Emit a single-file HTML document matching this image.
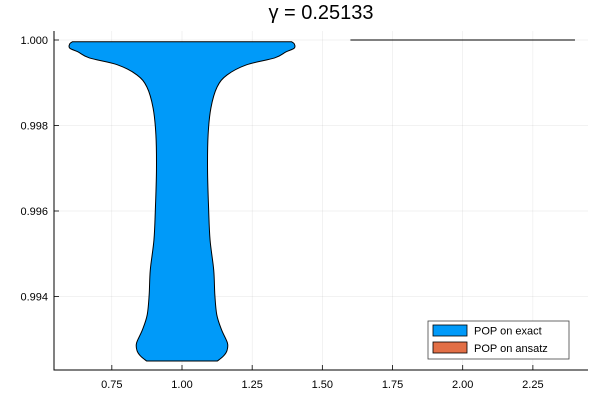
<!DOCTYPE html>
<html><head><meta charset="utf-8"><style>
body{margin:0;background:#fff}
svg{display:block;font-family:"Liberation Sans","DejaVu Sans",sans-serif}
</style></head><body>
<svg id="chart" width="600" height="400" viewBox="0 0 600 400" xmlns="http://www.w3.org/2000/svg">
<text x="321" y="19" font-size="20" text-anchor="middle">γ = 0.25133</text>
<g id="grid"></g>
<g id="marks"></g>
<g id="axes"></g>
<g>
<rect x="428" y="321" width="141" height="38" fill="#fff" stroke="#444" stroke-width="0.8"/>
<g>
<rect x="433" y="325" width="34" height="11" fill="#009af9" stroke="#000" stroke-width="0.8"/>
<text x="474" y="334.5" font-size="11">POP on exact</text></g>
<g>
<rect x="433" y="342" width="34" height="11" fill="#e26f46" stroke="#000" stroke-width="0.8"/>
<text x="474" y="352" font-size="11">POP on ansatz</text></g>
</g>
</svg>
<script>
const xTicks=[0.75,1.0,1.25,1.5,1.75,2.0,2.25];
const xTickLabels=["0.75","1.00","1.25","1.50","1.75","2.00","2.25"];
const yTicks=[0.994,0.996,0.998,1.0];
const yTickLabels=["0.994","0.996","0.998","1.000"];
const violinCenter=1.0;
const violinY=[0.99996,0.99991,0.99981,0.99972,0.99958,0.99942,0.99918,0.99890,0.99841,0.99778,0.99696,0.99602,0.99532,0.99462,0.99404,0.99357,0.99322,0.99291,0.99273,0.99261,0.99249];
const violinHW=[0.39,0.40,0.40,0.37,0.33,0.23,0.16,0.125,0.103,0.093,0.091,0.095,0.100,0.113,0.117,0.124,0.141,0.162,0.160,0.148,0.126];
const ansatzCenter=2.0, ansatzHW=0.4, ansatzValue=1.0;

const X0=54,X1=588,Y0=31,Y1=370;
const xs=v=>182+(v-1)*280.7;
const ys=v=>40+(1-v)/0.002*85.5;
const NS="http://www.w3.org/2000/svg";
function mk(t,a,p){const e=document.createElementNS(NS,t);for(const k in a)e.setAttribute(k,a[k]);p.appendChild(e);return e;}
const grid=document.getElementById('grid'),axes=document.getElementById('axes'),marks=document.getElementById('marks');
xTicks.forEach((t,i)=>{
 const gl=mk('line',{x1:xs(t),x2:xs(t),y1:Y0,y2:Y1,stroke:'#000','stroke-opacity':0.1,'stroke-width':0.5},grid);
 
 const tk=mk('line',{x1:xs(t),x2:xs(t),y1:Y1,y2:Y1-5,stroke:'#000','stroke-width':0.8},axes);
 
 const tx=mk('text',{x:xs(t),y:Y1+18,'font-size':11,'text-anchor':'middle'},axes);tx.textContent=xTickLabels[i];
 
});
yTicks.forEach((t,i)=>{
 const gl=mk('line',{x1:X0,x2:X1,y1:ys(t),y2:ys(t),stroke:'#000','stroke-opacity':0.1,'stroke-width':0.5},grid);
 
 const tk=mk('line',{x1:X0,x2:X0+5,y1:ys(t),y2:ys(t),stroke:'#000','stroke-width':0.8},axes);
 
 const tx=mk('text',{x:X0-6,y:ys(t)+4,'font-size':11,'text-anchor':'end'},axes);tx.textContent=yTickLabels[i];
 
});
const ax=mk('path',{d:`M${X0} ${Y0}V${Y1}H${X1}`,fill:'none',stroke:'#000','stroke-width':1},axes);

// violin outline via smooth curve
const right=violinY.map((v,i)=>[xs(violinCenter+violinHW[i]),ys(v)]);
const left=violinY.map((v,i)=>[xs(violinCenter-violinHW[i]),ys(v)]).reverse();
function cr(pts){let d='';for(let i=0;i<pts.length-1;i++){const p0=pts[Math.max(0,i-1)],p1=pts[i],p2=pts[i+1],p3=pts[Math.min(pts.length-1,i+2)];
 d+=`C${p1[0]+(p2[0]-p0[0])/6} ${p1[1]+(p2[1]-p0[1])/6} ${p2[0]-(p3[0]-p1[0])/6} ${p2[1]-(p3[1]-p1[1])/6} ${p2[0]} ${p2[1]}`;}return d;}
let d=`M${left[left.length-1][0]} ${left[left.length-1][1]}L${right[0][0]} ${right[0][1]}`+cr(right)+`L${left[0][0]} ${left[0][1]}`+cr(left)+'Z';
const vp=mk('path',{d:d,fill:'#009af9',stroke:'#000','stroke-width':1},marks);

const al=mk('line',{x1:xs(ansatzCenter-ansatzHW),x2:xs(ansatzCenter+ansatzHW),y1:ys(ansatzValue),y2:ys(ansatzValue),stroke:'#000','stroke-width':1},marks);

</script>
</body></html>
